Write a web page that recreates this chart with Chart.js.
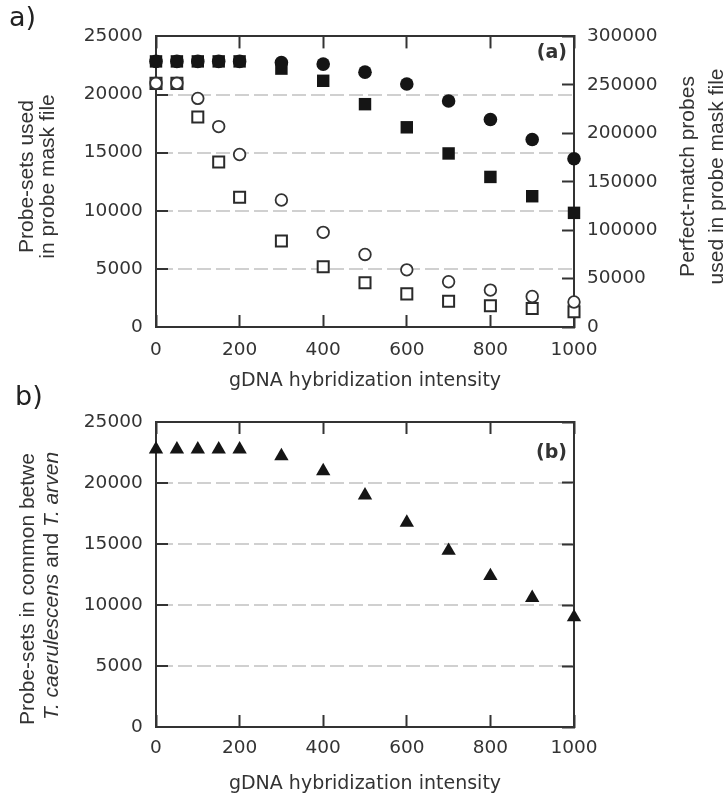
<!DOCTYPE html>
<html><head><meta charset="utf-8">
<script src="https://cdn.jsdelivr.net/npm/chart.js@4/dist/chart.umd.min.js"></script>
<style>
html,body{margin:0;padding:0;background:#fff;width:726px;height:796px;overflow:hidden;}
canvas{position:absolute;left:0;}
#ca{top:0;} #cb{top:375px;}
</style></head><body>
<canvas id="ca" width="726" height="395"></canvas>
<canvas id="cb" width="726" height="421"></canvas>
<script>
// ---------- data ----------
const thresholds = [0, 50, 100, 150, 200, 300, 400, 500, 600, 700, 800, 900, 1000];
// panel a, left axis: probe-sets used in probe mask file
const probeSetsFilled = [22850, 22850, 22850, 22850, 22850, 22230, 21180, 19170, 17180, 14930, 12910, 11250, 9820];
const probeSetsOpen   = [20960, 20960, 18070, 14200, 11170, 7400, 5190, 3810, 2850, 2210, 1820, 1600, 1320];
// panel a, right axis: perfect-match probes used in probe mask file
const probesFilled = [274200, 274200, 274200, 274200, 274200, 273000, 271400, 263100, 250900, 233300, 214200, 193600, 173700];
const probesOpen   = [251600, 251600, 236000, 206900, 178100, 131100, 97700, 74900, 59000, 46700, 38100, 31500, 25800];
// panel b: probe-sets in common
const commonProbeSets = [22760, 22760, 22760, 22760, 22760, 22200, 20970, 18990, 16760, 14450, 12380, 10590, 9000];
// tick labels
const xTicks = [0, 200, 400, 600, 800, 1000];
const yLeftTicks = [0, 5000, 10000, 15000, 20000, 25000];
const yRightTicks = [0, 50000, 100000, 150000, 200000, 250000, 300000];
// texts
const xTitle = 'gDNA hybridization intensity';
const yTitleA = ['Probe-sets used', 'in probe mask file'];
const y2TitleA = ['Perfect-match probes', 'used in probe mask file'];
const yTitleB1 = 'Probe-sets in common betwe';
const yTitleB2 = [['T. caerulescens', true], [' and ', false], ['T. arven', true]];

// ---------- style ----------
const AX = '#333333', TXT = '#333333', GRID = '#d0d0d0', MARK = '#151515';
const TICKFONT = {family: 'DejaVu Sans', size: 18.5};
const TITLEFAM = '"Liberation Sans", Arial, sans-serif';

const pts = arr => arr.map((v, i) => ({x: thresholds[i], y: v}));
const setTicks = arr => s => { s.ticks = arr.map(v => ({value: v})); };

function drawRot(ctx, segs, x, y, anchor) {
  ctx.save();
  ctx.translate(x, y);
  ctx.rotate(-Math.PI / 2);
  let total = 0;
  segs.forEach(s => { ctx.font = s.font; s.w = ctx.measureText(s.text).width; total += s.w; });
  let cx = anchor === 'center' ? -total / 2 : 0;
  ctx.textAlign = 'left';
  ctx.textBaseline = 'alphabetic';
  segs.forEach(s => { ctx.font = s.font; ctx.fillText(s.text, cx, 0); cx += s.w; });
  ctx.restore();
}

const textPlugin = {
  id: 'texts',
  afterDraw(chart, args, o) {
    const ctx = chart.ctx, ca = chart.chartArea;
    ctx.save();
    ctx.fillStyle = '#222';
    // panel letter
    ctx.font = '27px "DejaVu Sans"';
    ctx.textAlign = 'left'; ctx.textBaseline = 'alphabetic';
    ctx.fillText(o.letter, o.letterX, o.letterY);
    ctx.fillStyle = TXT;
    // inner tag
    ctx.font = 'bold 19px "DejaVu Sans"';
    ctx.textAlign = 'right'; ctx.textBaseline = 'middle';
    ctx.fillText(o.tag, ca.right - 7, o.tagY);
    // x title
    ctx.font = '19px "DejaVu Sans"';
    ctx.textAlign = 'center'; ctx.textBaseline = 'alphabetic';
    ctx.fillText(xTitle, (ca.left + ca.right) / 2, o.xTitleY);
    ctx.fillStyle = '#333';
    o.rot.forEach(r => drawRot(ctx, r.segs, r.x, r.y, r.anchor));
    ctx.restore();
  }
};

function xAxes(pad, h) {
  const grid = {drawOnChartArea: false, drawTicks: true, tickLength: -12, tickWidth: 2, tickColor: AX};
  const border = {display: true, color: AX, width: 2};
  return {
    x: {type: 'linear', position: 'bottom', min: 0, max: 1000,
        afterBuildTicks: setTicks(xTicks), afterFit: s => { s.height = h; },
        ticks: {color: TXT, font: TICKFONT, padding: pad, maxRotation: 0, autoSkip: false, callback: v => String(v)},
        grid: grid, border: border},
    x2: {type: 'linear', position: 'top', min: 0, max: 1000,
        afterBuildTicks: setTicks(xTicks), afterFit: s => { s.height = 0; },
        ticks: {display: false}, grid: grid, border: border}
  };
}
function yLeft() {
  return {type: 'linear', position: 'left', min: 0, max: 25000,
    afterBuildTicks: setTicks(yLeftTicks), afterFit: s => { s.width = 156; },
    ticks: {color: TXT, font: TICKFONT, padding: 25.3, callback: v => String(v)},
    grid: {drawOnChartArea: true, lineWidth: 2,
           color: c => (c.tick && c.tick.value > 0 && c.tick.value < 25000) ? GRID : 'rgba(0,0,0,0)',
           drawTicks: true, tickLength: -12, tickWidth: 2, tickColor: AX},
    border: {display: true, color: AX, width: 2, dash: [14, 5], dashOffset: -2}};
}

const common = {
  responsive: false, animation: false, devicePixelRatio: 1, events: [],
  plugins: {legend: {display: false}, tooltip: {enabled: false}}
};

// ---------- panel a ----------
new Chart(document.getElementById('ca'), {
  type: 'scatter',
  data: {datasets: [
    {data: pts(probesOpen), yAxisID: 'y2', pointStyle: 'circle', pointRadius: 5.8, pointBackgroundColor: '#fff', pointBorderColor: '#333', pointBorderWidth: 1.8, clip: false},
    {data: pts(probeSetsOpen), yAxisID: 'y', pointStyle: 'rect', pointRadius: 7.8, pointBackgroundColor: '#fff', pointBorderColor: '#2a2a2a', pointBorderWidth: 2, clip: false},
    {data: pts(probesFilled), yAxisID: 'y2', pointStyle: 'circle', pointRadius: 6.8, pointBackgroundColor: MARK, pointBorderColor: MARK, pointBorderWidth: 0, clip: false},
    {data: pts(probeSetsFilled), yAxisID: 'y', pointStyle: 'rect', pointRadius: 8.8, pointBackgroundColor: MARK, pointBorderColor: MARK, pointBorderWidth: 0, clip: false}
  ]},
  options: Object.assign({}, common, {
    layout: {padding: {top: 23, left: 0, right: 0, bottom: 0}},
    scales: Object.assign(xAxes(24.2, 68), {
      y: yLeft(),
      y2: {type: 'linear', position: 'right', min: 0, max: 300000,
        afterBuildTicks: setTicks(yRightTicks), afterFit: s => { s.width = 152; },
        ticks: {color: TXT, font: TICKFONT, padding: 25, callback: v => String(v)},
        grid: {drawOnChartArea: false, drawTicks: true, tickLength: -12, tickWidth: 2, tickColor: AX},
        border: {display: true, color: AX, width: 2}}
    }),
    plugins: Object.assign({}, common.plugins, {texts: {
      letter: 'a)', letterX: 9, letterY: 26, tag: '(a)', tagY: 53, xTitleY: 386,
      rot: [
        {segs: [{text: yTitleA[0], font: '21px ' + TITLEFAM}], x: 32.5, y: 176.5, anchor: 'center'},
        {segs: [{text: yTitleA[1], font: '21px ' + TITLEFAM}], x: 54, y: 176.5, anchor: 'center'},
        {segs: [{text: y2TitleA[0], font: '21px ' + TITLEFAM}], x: 693.5, y: 176.5, anchor: 'center'},
        {segs: [{text: y2TitleA[1], font: '21px ' + TITLEFAM}], x: 723, y: 176.5, anchor: 'center'}
      ]}})
  }),
  plugins: [textPlugin]
});

// ---------- panel b ----------
new Chart(document.getElementById('cb'), {
  type: 'scatter',
  data: {datasets: [
    {data: pts(commonProbeSets), yAxisID: 'y', pointStyle: 'triangle', pointRadius: 8.3, pointBackgroundColor: MARK, pointBorderColor: MARK, pointBorderWidth: 0, clip: false}
  ]},
  options: Object.assign({}, common, {
    layout: {padding: {top: 47, left: 0, right: 0, bottom: 0}},
    scales: Object.assign(xAxes(22.2, 69), {
      y: yLeft(),
      y2: {type: 'linear', position: 'right', min: 0, max: 25000,
        afterBuildTicks: setTicks(yLeftTicks), afterFit: s => { s.width = 152; },
        ticks: {display: false},
        grid: {drawOnChartArea: false, drawTicks: true, tickLength: -12, tickWidth: 2, tickColor: AX},
        border: {display: true, color: AX, width: 2}}
    }),
    plugins: Object.assign({}, common.plugins, {texts: {
      letter: 'b)', letterX: 15, letterY: 30, tag: '(b)', tagY: 78, xTitleY: 414,
      rot: [
        {segs: [{text: yTitleB1, font: '21px ' + TITLEFAM}], x: 34, y: 350, anchor: 'start'},
        {segs: yTitleB2.map(s => ({text: s[0], font: (s[1] ? 'italic ' : '') + '21px ' + TITLEFAM})), x: 58, y: 345, anchor: 'start'}
      ]}})
  }),
  plugins: [textPlugin]
});
</script>
</body></html>
